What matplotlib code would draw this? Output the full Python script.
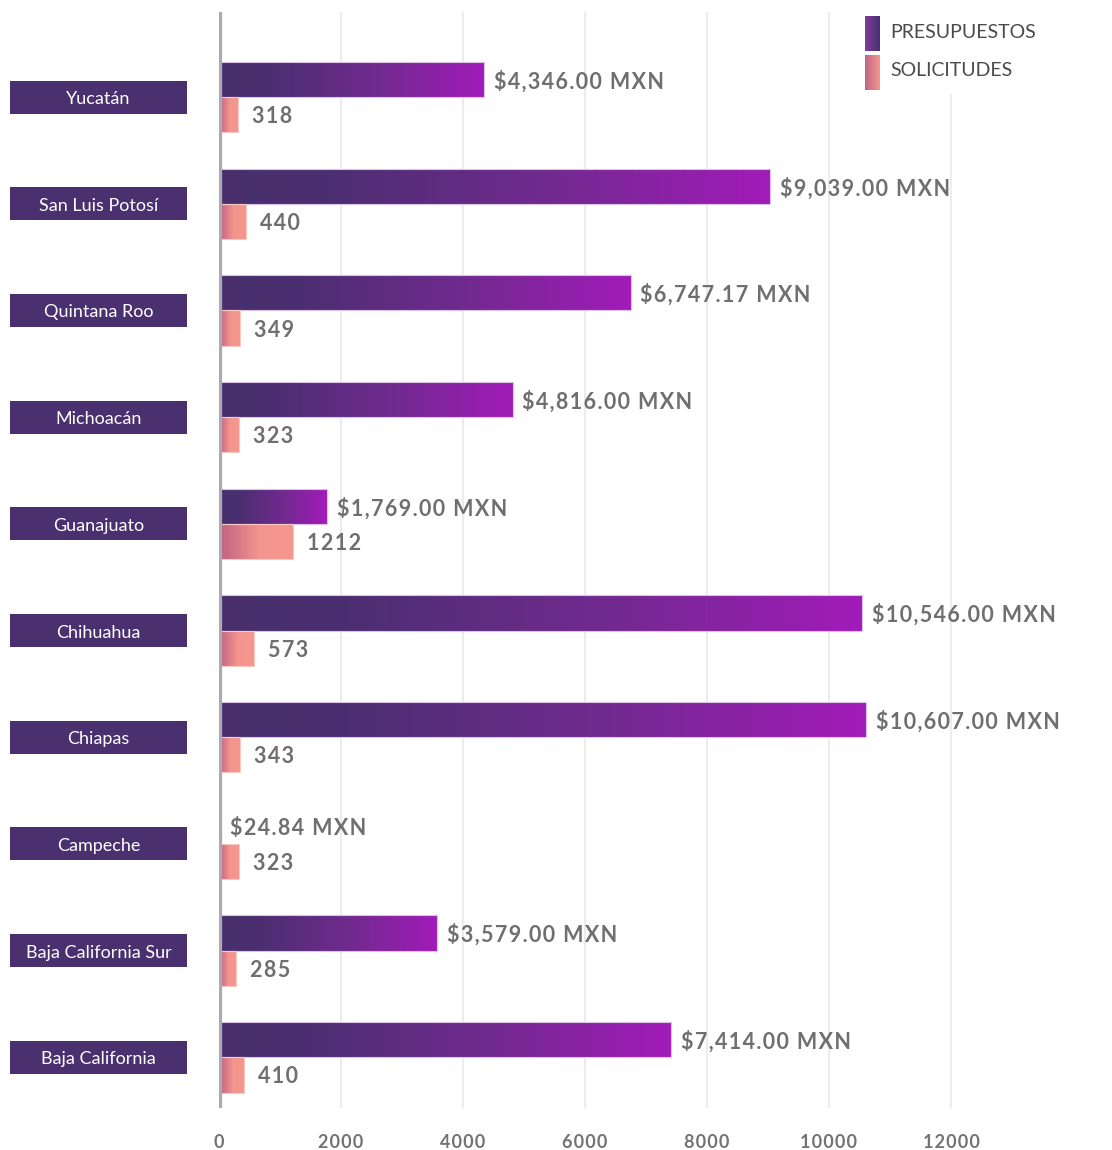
import numpy as np
import matplotlib
matplotlib.use('Agg')
import matplotlib.pyplot as plt
from matplotlib.colors import LinearSegmentedColormap
from matplotlib.patches import Rectangle
from matplotlib.transforms import blended_transform_factory

plt.rcParams['font.family'] = ['Lato', 'DejaVu Sans']

estados = ['Yucatán', 'San Luis Potosí', 'Quintana Roo', 'Michoacán', 'Guanajuato',
           'Chihuahua', 'Chiapas', 'Campeche', 'Baja California Sur', 'Baja California']
presupuestos = [4346.00, 9039.00, 6747.17, 4816.00, 1769.00,
                10546.00, 10607.00, 24.84, 3579.00, 7414.00]
solicitudes = [318, 440, 349, 323, 1212, 573, 343, 323, 285, 410]
xticks = [0, 2000, 4000, 6000, 8000, 10000, 12000]

purple_cmap = LinearSegmentedColormap.from_list(
    'pres', [(0, '#48306c'), (0.18, '#4a2f70'), (0.6, '#712a8f'), (1, '#a21bb9')])
pink_cmap = LinearSegmentedColormap.from_list(
    'sol', [(0, '#bf6083'), (0.55, '#f4958d'), (1, '#f5978e')])

fig = plt.figure(figsize=(11.12, 11.5), dpi=100)
ax = fig.add_axes([219 / 1112, 1 - 1108 / 1150, 1 - 219 / 1112, (1108 - 12) / 1150])

y = np.arange(len(estados))
bh = 0.33


def gradient_bars(bars, cmap):
    for p in bars:
        x0, y0, w, h = p.get_x(), p.get_y(), p.get_width(), p.get_height()
        g = np.linspace(0, 1, 256).reshape(1, -1)
        im = ax.imshow(g, cmap=cmap, extent=(x0, x0 + w, y0 + h, y0),
                       aspect='auto', interpolation='bilinear', zorder=3)
        im.set_clip_path(p)


b1 = ax.barh(y - bh / 2, presupuestos, height=bh, facecolor='none',
             edgecolor='#dcc2ea', linewidth=0.8, zorder=4)
b2 = ax.barh(y + bh / 2, solicitudes, height=bh, facecolor='none',
             edgecolor='#f8c8c2', linewidth=0.8, zorder=4)
gradient_bars(b1, purple_cmap)
gradient_bars(b2, pink_cmap)


def spaced(s):
    # the original font is letter-spaced; hair spaces imitate that
    return '\u200a'.join(s)


lbl = dict(color='#6f6f6f', fontsize=15.5, fontweight='bold', va='center_baseline', ha='left')
for i in range(len(estados)):
    ax.annotate(spaced(f'${presupuestos[i]:,.2f} MXN'), (presupuestos[i], y[i] - bh / 2),
                xytext=(7, 0), textcoords='offset points', **lbl)
    ax.annotate(spaced(f'{solicitudes[i]}'), (solicitudes[i], y[i] + bh / 2),
                xytext=(10, 0), textcoords='offset points', **lbl)

# category boxes on the left
tr = blended_transform_factory(fig.transFigure, ax.transData)
for i, name in enumerate(estados):
    ax.add_patch(Rectangle((10 / 1112, y[i] - 0.155), 177 / 1112, 0.31, transform=tr,
                           facecolor='#4b3070', edgecolor='none', clip_on=False))
    ax.text(98.5 / 1112, y[i] + 0.005, name, transform=tr, ha='center',
            va='center_baseline', color='white', fontsize=13)

ax.set_xlim(0, 14640)
ax.set_ylim(9.475, -0.797)
ax.set_xticks(xticks)
ax.set_xticklabels([spaced(str(t)) for t in xticks], color='#737373', fontsize=13,
                   fontweight='bold')
ax.tick_params(axis='x', length=0, pad=19)
ax.set_yticks([])
for s in ax.spines.values():
    s.set_visible(False)
for t in xticks[1:]:
    ax.axvline(t, color='#ececec', linewidth=1.5, zorder=1)
ax.axvline(0, color='#a9aab2', linewidth=4.5, solid_capstyle='round', zorder=5)

# legend
lax = fig.add_axes([0, 0, 1, 1], facecolor='none')
lax.axis('off')
lax.add_patch(Rectangle((855, 12), 200, 82, facecolor='white', edgecolor='none', zorder=1))
g = np.linspace(0, 1, 64).reshape(1, -1)
lax.imshow(g[:, ::-1], cmap=LinearSegmentedColormap.from_list('l1', ['#4a2f70', '#7d3c9c']),
           extent=(865, 880, 51, 16), aspect='auto', zorder=2)
lax.imshow(g, cmap=LinearSegmentedColormap.from_list('l2', ['#c06585', '#f4968e']),
           extent=(865, 880, 90, 55), aspect='auto', zorder=2)
lax.text(890, 33, 'PRESUPUESTOS', color='#4a4a4a', fontsize=14, va='center', zorder=3)
lax.text(890, 71, 'SOLICITUDES', color='#4a4a4a', fontsize=14, va='center', zorder=3)
lax.set_xlim(0, 1112)
lax.set_ylim(1150, 0)

fig.savefig('out.png', dpi=100)
